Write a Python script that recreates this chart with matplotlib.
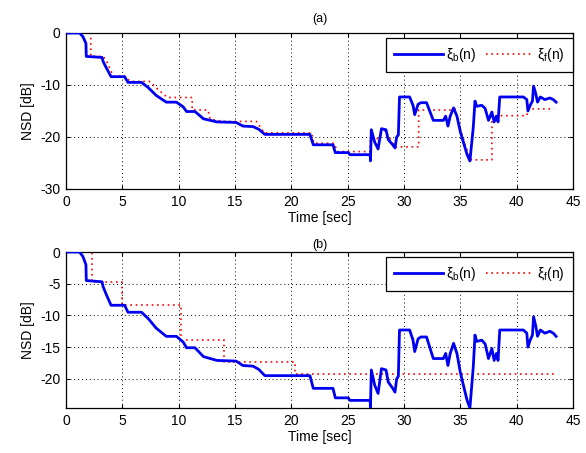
import matplotlib
matplotlib.use("Agg")
import matplotlib.pyplot as plt

plt.rcParams['font.family'] = ['Liberation Sans', 'DejaVu Sans']
plt.rcParams['mathtext.fontset'] = 'dejavusans'
plt.rcParams['axes.unicode_minus'] = False

# ---- data ----
t_b = [0, 1.2, 1.5, 1.77, 1.8, 3.2, 3.3, 3.6, 3.9, 4.0, 5.2, 5.5, 6.7, 7.3, 8.0, 8.9,
       9.8, 10.4, 10.7, 11.45, 12.2, 13.4, 15.1, 15.7, 16.6, 17.1, 17.65, 21.65, 21.95,
       23.7, 23.9, 25.05, 25.2, 27.0, 27.02, 27.1, 27.4, 27.7, 28.0, 28.4, 28.6, 29.0,
       29.2, 29.35, 29.5, 29.6, 30.5, 30.8, 30.95, 31.25, 31.5, 32.0, 32.3, 32.6, 33.5,
       33.7, 33.9, 34.1, 34.4, 34.7, 35.0, 35.3, 35.6, 35.85, 36.15, 36.3, 36.45, 36.9,
       37.2, 37.5, 37.8, 38.0, 38.2, 38.35, 38.5, 40.6, 40.9, 41.0, 41.2, 41.4, 41.5,
       41.7, 41.85, 42.1, 42.5, 42.95, 43.25, 43.5]
nsd_b = [0, 0, -0.7, -2.0, -4.5, -4.7, -5.5, -6.8, -8.0, -8.4, -8.4, -9.5, -9.5, -10.5,
         -12.0, -13.3, -13.3, -14.2, -15.1, -15.1, -16.5, -17.1, -17.2, -17.9, -18.0,
         -18.5, -19.5, -19.5, -21.5, -21.5, -23.0, -23.0, -23.4, -23.4, -24.6, -18.6,
         -21.0, -22.3, -18.4, -18.6, -20.5, -21.5, -22.1, -20.0, -19.6, -12.3, -12.3,
         -13.9, -15.7, -13.7, -13.4, -13.4, -15.1, -16.8, -16.8, -16.0, -17.9, -16.0,
         -14.4, -16.0, -19.0, -21.2, -23.4, -24.6, -18.1, -13.1, -14.1, -13.9, -14.5,
         -16.8, -15.2, -17.1, -16.0, -17.1, -12.3, -12.3, -12.8, -15.0, -13.9, -13.1,
         -10.2, -11.7, -13.3, -12.3, -12.8, -12.5, -12.8, -13.3]

t_fa = [1.2, 2.2, 2.2, 3.3, 3.6, 4.2, 5.2, 5.7, 7.4, 8.2, 9.0, 11.2, 11.2, 12.6, 12.8,
        14.0, 16.9, 17.6, 21.8, 22.0, 23.8, 24.1, 27.0, 27.0, 27.5, 28.3, 28.75, 29.2,
        31.3, 31.3, 34.1, 34.5, 35.0, 35.5, 36.0, 37.8, 37.8, 40.9, 41.0, 43.3]
nsd_fa = [0, 0, -4.5, -4.5, -5.4, -8.3, -8.3, -9.3, -9.3, -10.9, -12.4, -12.4, -14.8,
          -14.8, -16.6, -17.0, -17.0, -19.2, -19.2, -21.2, -21.2, -22.8, -22.8, -20.3,
          -20.6, -18.7, -20.3, -21.9, -21.9, -14.8, -14.8, -14.5, -18.5, -22.0, -24.4,
          -24.4, -15.9, -15.9, -14.6, -14.6]

t_fb = [0, 2.3, 2.3, 5.0, 5.0, 10.2, 10.2, 14.0, 14.0, 20.3, 20.3, 43.3]
nsd_fb = [0, 0, -4.7, -4.7, -8.4, -8.4, -13.8, -13.8, -17.3, -17.3, -19.3, -19.3]

x_ticks = [0, 5, 10, 15, 20, 25, 30, 35, 40, 45]
y_ticks_a = [-30, -20, -10, 0]
y_ticks_b = [-20, -15, -10, -5, 0]
labels = [r'$\mathregular{\xi_b(n)}$', r'$\mathregular{\xi_f(n)}$']

W, H = 586, 453
fig = plt.figure(figsize=(W / 100, H / 100), dpi=100)

def frac(l, t, r, b):
    return [l / W, 1 - b / H, (r - l) / W, (b - t) / H]

ax1 = fig.add_axes(frac(66, 33, 573, 189))
ax2 = fig.add_axes(frac(66, 252, 573, 408))

panels = [(ax1, t_fa, nsd_fa, (-30, 0), y_ticks_a, '(a)', 8),
          (ax2, t_fb, nsd_fb, (-24.6, 0), y_ticks_b, '(b)', 3)]

for ax, tf, nf, yl, yt, title, tpad in panels:
    ax.plot(t_b, nsd_b, color='#0000f0', lw=2.0, label=labels[0], zorder=3)
    ax.plot(tf, nf, color='#ff0000', lw=1.2, linestyle=(0, (1, 2.2)), label=labels[1],
            zorder=2)
    ax.set_xlim(0, 45)
    ax.set_ylim(*yl)
    ax.set_xticks(x_ticks)
    ax.set_yticks(yt)
    ax.grid(True, color='black', linestyle=(0, (1, 3)), lw=0.7)
    ax.tick_params(direction='in', top=True, right=True, length=3, width=0.8,
                   labelsize=10, pad=4)
    for s in ax.spines.values():
        s.set_linewidth(0.9)
    ax.set_xlabel('Time [sec]', fontsize=10, labelpad=2)
    ax.set_ylabel('NSD [dB]', fontsize=10, labelpad=4)
    ax.set_title(title, fontsize=9, pad=tpad)
    leg = ax.legend(loc='upper right', bbox_to_anchor=(1.0, 0.97), ncol=2,
                    borderaxespad=0, fancybox=False, edgecolor='black',
                    framealpha=1, fontsize=10, handlelength=3.5,
                    handletextpad=0.2, columnspacing=0.7, borderpad=0.6)
    leg.get_frame().set_linewidth(0.9)
    leg.set_zorder(5)

fig.savefig('out.png', dpi=100)
